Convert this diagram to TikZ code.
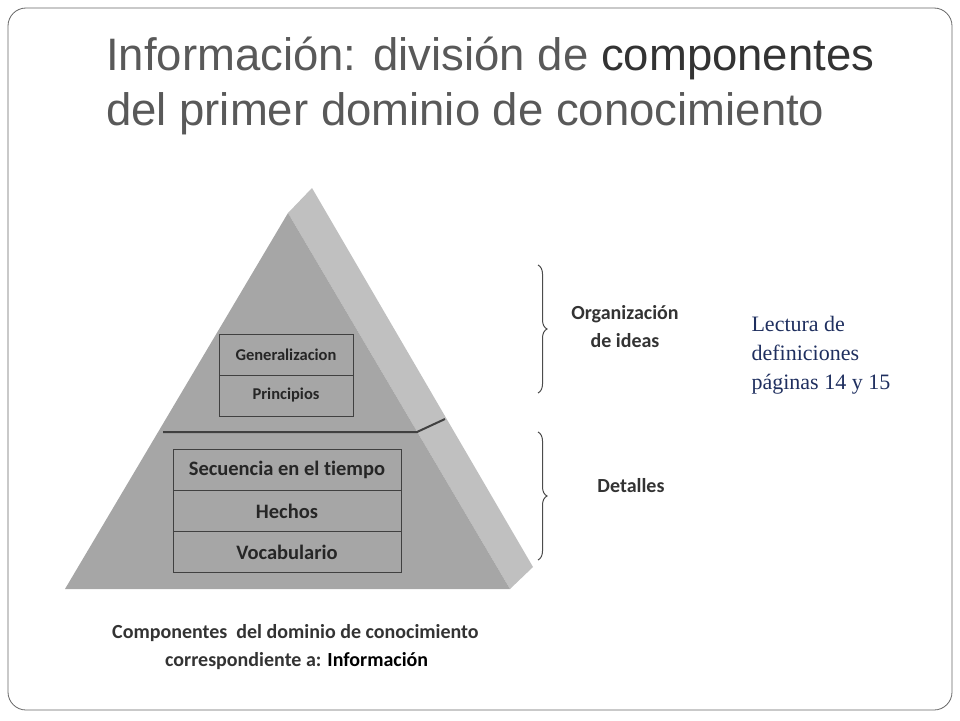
\documentclass[tikz,border=0pt]{standalone}
\usepackage{fontspec}
\setmainfont{Liberation Serif}
\newfontfamily\titlef{Liberation Sans}
\newfontfamily\carl[Ligatures={NoCommon}]{Carlito}
\usetikzlibrary{decorations.pathreplacing}
\definecolor{front}{HTML}{A6A6A6}
\definecolor{side}{HTML}{C0C0C0}
\definecolor{tgray}{HTML}{595959}
\definecolor{lblue}{HTML}{1F2F5F}
\tikzset{layer/.style={draw=black!75,line width=0.8pt,fill=front,minimum width=#1,inner sep=0pt,text=black!85},
lbl/.style={font=\carl\bfseries\fontsize{20}{28}\selectfont,text=black!80},
br/.style={decorate,decoration={brace,amplitude=9pt},line width=1pt,draw=black!70}}
\begin{document}
\begin{tikzpicture}[x=1pt,y=-1pt]
\useasboundingbox (0,0) rectangle (960,720);
\draw[black!60,line width=0.8pt,rounded corners=18pt] (8,8) rectangle (952,710);
\node[anchor=west,font=\titlef\fontsize{45.5}{50}\selectfont,text=tgray,inner sep=0pt] (t1) at (106,58) {Información: división de \textcolor{black!80}{componentes}};
\node[anchor=west,font=\titlef\fontsize{45.5}{50}\selectfont,text=tgray,inner sep=0pt] (t2) at (106,114) {del primer dominio de conocimiento};
% pyramid
\fill[side] (288,213) -- (312,188) -- (533,567) -- (510,589) -- cycle;
\fill[front] (288,213) -- (510,589) -- (65,589) -- cycle;
\draw[black!75,line width=2pt] (163,432) -- (417,432) -- (445,419);
\node[layer=134pt,minimum height=41pt,font=\carl\bfseries\fontsize{16.5}{18}\selectfont] (g) at (286,354.5) {Generalizacion};
\node[layer=134pt,minimum height=41pt,font=\carl\bfseries\fontsize{16.5}{18}\selectfont] (p) at (286,395.5) {Principios};
\node[layer=228pt,minimum height=41pt,font=\carl\bfseries\fontsize{20.5}{22}\selectfont] (s) at (287,470) {Secuencia en el tiempo};
\node[layer=228pt,minimum height=41pt,font=\carl\bfseries\fontsize{20.5}{22}\selectfont] (h) at (287,511) {Hechos};
\node[layer=228pt,minimum height=41pt,font=\carl\bfseries\fontsize{20.5}{22}\selectfont] (v) at (287,552) {Vocabulario};
% braces
\coordinate (b1t) at (538,265); \coordinate (b1b) at (538,393);
\coordinate (b2t) at (538,432); \coordinate (b2b) at (538,560);
\draw[br] (b1t) -- (b1b);
\draw[br] (b2t) -- (b2b);
\node[lbl,align=center] (oi) at (625,327) {Organización\\de ideas};
\node[lbl] (d) at (631,486) {Detalles};
\node[anchor=west,align=left,font=\fontsize{22}{29}\selectfont,text=lblue] (lec) at (748,355) {Lectura de\\definiciones\\páginas 14 y 15};
\node[lbl,anchor=west,inner sep=0pt] (c1) at (112,633) {Componentes\ \ del dominio de conocimiento};
\node[lbl,anchor=west,inner sep=0pt] (c2) at (165,661) {correspondiente a: \textcolor{black}{Información}};
\end{tikzpicture}
\end{document}
